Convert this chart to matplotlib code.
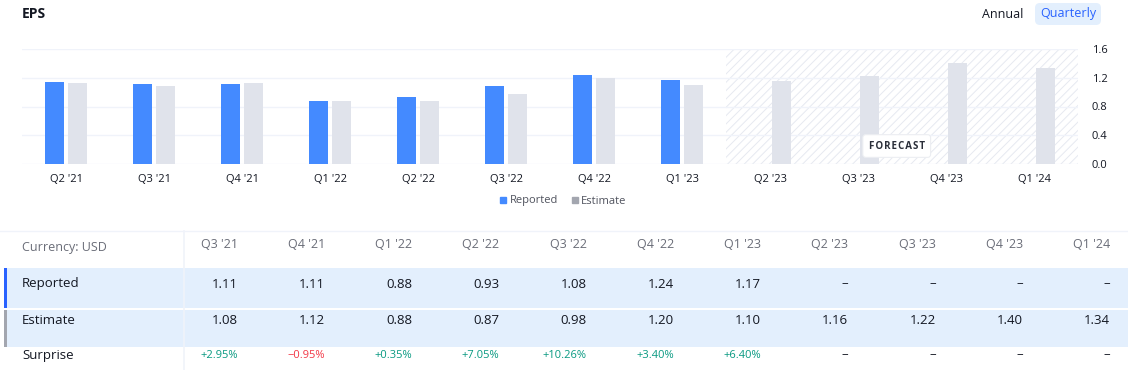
import matplotlib.pyplot as plt
from matplotlib.patches import Rectangle, FancyBboxPatch
from matplotlib.lines import Line2D
import numpy as np

quarters = ["Q2 '21", "Q3 '21", "Q4 '21", "Q1 '22", "Q2 '22", "Q3 '22",
            "Q4 '22", "Q1 '23", "Q2 '23", "Q3 '23", "Q4 '23", "Q1 '24"]
reported = [1.14, 1.11, 1.11, 0.88, 0.93, 1.08, 1.24, 1.17, None, None, None, None]
estimate = [1.12, 1.08, 1.12, 0.88, 0.87, 0.98, 1.20, 1.10, 1.16, 1.22, 1.40, 1.34]
surprise = [None, "+2.95%", "\u22120.95%", "+0.35%", "+7.05%", "+10.26%",
            "+3.40%", "+6.40%", None, None, None, None]
y_ticks = [0.0, 0.4, 0.8, 1.2, 1.6]

BLUE = "#448aff"
GREY_BAR = "#e0e3eb"
GRID = "#f0f3fa"
TXT = "#131722"
MUTED = "#6a6d78"
GREEN = "#089981"
RED = "#f23645"
BAND = "#e3effd"

plt.rcParams.update({
    "font.family": ["Open Sans", "DejaVu Sans"],
    "font.size": 8,
    "hatch.linewidth": 0.7,
})

W, H = 1128, 370
fig = plt.figure(figsize=(W / 100, H / 100), dpi=100)


def fx(px):
    return px / W


def fy(py):
    return 1 - py / H


# ---- bar chart ----
ax = fig.add_axes([fx(22), fy(164), fx(1056), 115 / H])
x = np.arange(len(quarters))
rep = np.array([np.nan if v is None else v for v in reported])
est = np.array(estimate)
bw = 0.215
off = 0.128
ax.bar(x - off, rep, width=bw, color=BLUE, zorder=3)
ax.bar(x + off, est, width=bw, color=GREY_BAR, zorder=3)

# forecast zone
n_rep = sum(v is not None for v in reported)
ax.axvspan(n_rep - 0.5, len(quarters) - 0.5, facecolor="none", edgecolor="#e6e9f0",
           hatch="////", linewidth=0, zorder=1)
ax.text(9.44, 0.25, "F O R E C A S T".replace(" ", "\u200a"), ha="center", va="center",
        fontsize=7, fontweight="bold", color="#2a2e39", zorder=5,
        bbox=dict(boxstyle="round,pad=0.6,rounding_size=0.3", fc="white", ec="#eceef2", lw=0.8))

ax.set_xlim(-0.5, len(quarters) - 0.5)
ax.set_ylim(0, 1.6)
ax.set_yticks(y_ticks)
ax.set_yticklabels([f"{t:.1f}" for t in y_ticks])
ax.yaxis.tick_right()
ax.set_xticks(x)
ax.set_xticklabels(quarters)
ax.tick_params(axis="both", length=0, labelsize=8, colors=TXT)
ax.tick_params(axis="y", pad=10)
ax.tick_params(axis="x", pad=7)
ax.grid(axis="y", color=GRID, linewidth=1, zorder=0)
for s in ax.spines.values():
    s.set_visible(False)

handles = [Line2D([], [], marker="s", ls="none", color=BLUE, markersize=4.5),
           Line2D([], [], marker="s", ls="none", color="#a3a6af", markersize=4.5)]
fig.legend(handles, ["Reported", "Estimate"], loc="center", bbox_to_anchor=(fx(562), fy(201)),
           ncol=2, frameon=False, fontsize=8, labelcolor="#50535e", handletextpad=0.1,
           columnspacing=1.0, handlelength=1.0)

# ---- overlay in pixel coordinates ----
ov = fig.add_axes([0, 0, 1, 1], zorder=-1)
ov.set_xlim(0, W)
ov.set_ylim(H, 0)
ov.axis("off")

fig.text(fx(22), fy(14), "EPS", fontsize=10, fontweight="bold", color=TXT, va="center")
fig.text(fx(1003), fy(14), "Annual", fontsize=9, color=TXT, va="center", ha="center")
ov.add_patch(FancyBboxPatch((1035, 3), 66, 22, boxstyle="round,pad=0,rounding_size=5",
                            fc=BAND, ec="none"))
fig.text(fx(1068), fy(14), "Quarterly", fontsize=9, color="#2962ff", va="center", ha="center")

# table
ov.plot([0, W], [231, 231], color=GRID, lw=1)
ov.add_patch(Rectangle((7, 268), W - 7, 40, fc=BAND, ec="none"))
ov.add_patch(Rectangle((7, 310), W - 7, 37, fc=BAND, ec="none"))
ov.add_patch(Rectangle((4, 268), 3, 40, fc="#2962ff", ec="none"))
ov.add_patch(Rectangle((4, 310), 3, 37, fc="#a3a6af", ec="none"))
ov.plot([184, 184], [231, H], color=GRID, lw=1.2)

row_y = {"head": 245, "rep": 284, "est": 320, "sur": 355}
fig.text(fx(22), fy(248), "Currency: USD", fontsize=9, color=MUTED, va="center")
fig.text(fx(22), fy(row_y["rep"]), "Reported", fontsize=9.5, color=TXT, va="center")
fig.text(fx(22), fy(row_y["est"]), "Estimate", fontsize=9.5, color=TXT, va="center")
fig.text(fx(22), fy(row_y["sur"]), "Surprise", fontsize=9.5, color=TXT, va="center")

for i, q in enumerate(quarters[1:], start=1):
    xr = fx(238 + (i - 1) * 87.2)
    fig.text(xr, fy(row_y["head"]), q, fontsize=9, color=MUTED, ha="right", va="center")
    r = "\u2013" if reported[i] is None else f"{reported[i]:.2f}"
    fig.text(xr, fy(row_y["rep"]), r, fontsize=9.5, color=TXT, ha="right", va="center")
    fig.text(xr, fy(row_y["est"]), f"{estimate[i]:.2f}", fontsize=9.5, color=TXT,
             ha="right", va="center")
    s = surprise[i]
    if s is None:
        fig.text(xr, fy(row_y["sur"]), "\u2013", fontsize=9.5, color=TXT, ha="right", va="center")
    else:
        fig.text(xr, fy(row_y["sur"]), s, fontsize=8, color=RED if s.startswith("\u2212") else GREEN,
                 ha="right", va="center")

fig.savefig("out.png", dpi=100, facecolor="white")
